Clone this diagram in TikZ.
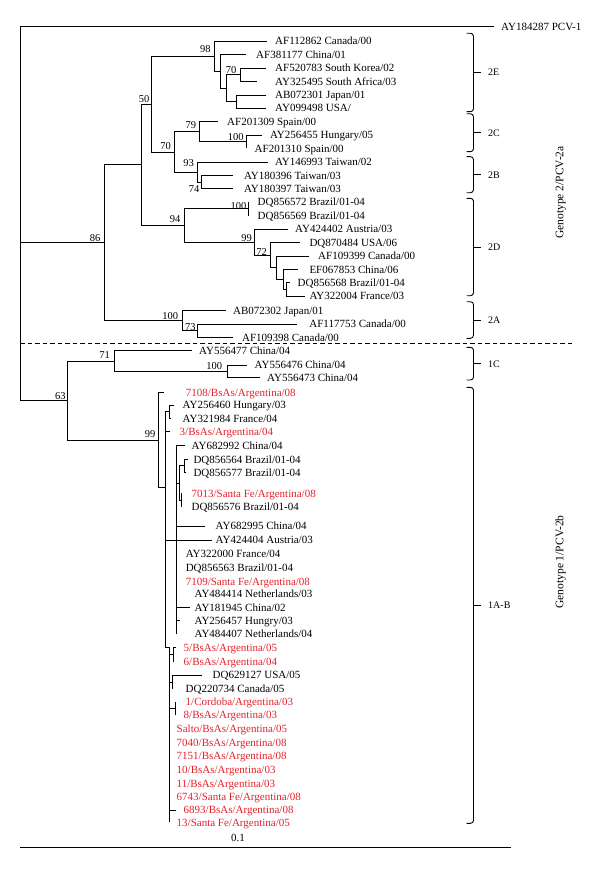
\documentclass[tikz,border=0pt]{standalone}
\usepackage{fontspec}
\setmainfont{Liberation Serif}
\usepackage{xcolor}
\definecolor{argentina}{HTML}{E3212B}

\begin{document}
\begin{tikzpicture}[x=1pt, y=-1pt,
    branch/.style={line width=0.9pt},
    leaf/.style={anchor=west, inner sep=0pt, text height=7.4pt, text depth=0pt, font=\fontsize{11}{12}\selectfont},
    argleaf/.style={leaf, text=argentina},
    boot/.style={inner sep=0pt, text height=7pt, text depth=0pt, font=\fontsize{10.5}{12}\selectfont},
    clade/.style={line width=0.9pt, rounded corners=3pt},
    cladename/.style={anchor=west, inner sep=0pt, text height=6.8pt, text depth=0pt, font=\fontsize{10}{11}\selectfont},
    genotype/.style={rotate=90, inner sep=0pt, font=\fontsize{11.5}{13}\selectfont},
]
\useasboundingbox (0,0) rectangle (600,869);

% Root and outgroup
\coordinate (root) at (20,242.9);
\coordinate (eAY184287) at (493.7,26.7);
\node[leaf] (AY184287) at (501,26.7) {AY184287 PCV-1};
\draw[branch] (root) |- (eAY184287);

% Genotype 2: internal nodes
\coordinate (n86) at (104.1,242.9);
\coordinate (nA) at (141.6,164.9);
\coordinate (nB) at (151.5,104.3);
\coordinate (n98) at (214,56.5);
\coordinate (nX) at (220,71.6);
\coordinate (nY) at (226,88.2);
\coordinate (nW) at (240,74.8);
\coordinate (nZ) at (236.7,101.7);
\coordinate (nC) at (174.1,152);
\coordinate (n79) at (199,131.8);
\coordinate (n100a) at (246.8,141.9);
\coordinate (n93) at (197,172);
\coordinate (n74) at (201.7,182.1);
\coordinate (n94) at (184.5,225.5);
\coordinate (n100b) at (248.3,208.9);
\coordinate (n99) at (254.3,242.05);
\coordinate (n72) at (270,255.1);
\coordinate (nK) at (276,267.65);
\coordinate (nL) at (283.3,279.3);
\coordinate (nM) at (286.7,289.3);
\coordinate (n2A) at (182.5,320.8);
\coordinate (n73) at (197,330.8);

% Genotype 2: leaves
\coordinate (eAF112862) at (266.7,41.3);  \node[leaf] (AF112862) at (275,41.3) {AF112862 Canada/00};
\coordinate (eAF381177) at (246,54.7);    \node[leaf] (AF381177) at (256,54.7) {AF381177 China/01};
\coordinate (eAF520783) at (266,68);      \node[leaf] (AF520783) at (275,68) {AF520783 South Korea/02};
\coordinate (eAY325495) at (257,81.5);    \node[leaf] (AY325495) at (275,81.5) {AY325495 South Africa/03};
\coordinate (eAB072301) at (266,95);      \node[leaf] (AB072301) at (275,95) {AB072301 Japan/01};
\coordinate (eAY099498) at (266,108.3);   \node[leaf] (AY099498) at (275,108.3) {AY099498 USA/};
\coordinate (eAF201309) at (218,121.7);   \node[leaf] (AF201309) at (227,121.7) {AF201309 Spain/00};
\coordinate (eAY256455) at (262,135.2);   \node[leaf] (AY256455) at (269.8,135.2) {AY256455 Hungary/05};
\coordinate (eAF201310) at (246.8,148.5); \node[leaf] (AF201310) at (254.5,148.5) {AF201310 Spain/00};
\coordinate (eAY146993) at (268,162);     \node[leaf] (AY146993) at (274.8,162) {AY146993 Taiwan/02};
\coordinate (eAY180396) at (233.4,175.4); \node[leaf] (AY180396) at (243.8,175.4) {AY180396 Taiwan/03};
\coordinate (eAY180397) at (233.4,188.8); \node[leaf] (AY180397) at (243.8,188.8) {AY180397 Taiwan/03};
\coordinate (eDQ856572) at (248.3,202.2); \node[leaf] (DQ856572) at (257.5,202.2) {DQ856572 Brazil/01-04};
\coordinate (eDQ856569) at (248.3,215.6); \node[leaf] (DQ856569) at (257.5,215.6) {DQ856569 Brazil/01-04};
\coordinate (eAY424402) at (288,229);     \node[leaf] (AY424402) at (295,229) {AY424402 Austria/03};
\coordinate (eDQ870484) at (300,242.5);   \node[leaf] (DQ870484) at (309.3,242.5) {DQ870484 USA/06};
\coordinate (eAF109399) at (309,256);     \node[leaf] (AF109399) at (318,256) {AF109399 Canada/00};
\coordinate (eEF067853) at (298,269.3);   \node[leaf] (EF067853) at (309.3,269.3) {EF067853 China/06};
\coordinate (eDQ856568) at (290,282.7);   \node[leaf] (DQ856568) at (297.5,282.7) {DQ856568 Brazil/01-04};
\coordinate (eAY322004) at (305,296);     \node[leaf] (AY322004) at (309.3,296) {AY322004 France/03};
\coordinate (eAB072302) at (226,310.7);   \node[leaf] (AB072302) at (233,310.7) {AB072302 Japan/01};
\coordinate (eAF117753) at (296.6,324);   \node[leaf] (AF117753) at (309.2,324) {AF117753 Canada/00};
\coordinate (eAF109398) at (233.4,337.7); \node[leaf] (AF109398) at (241.9,337.7) {AF109398 Canada/00};

% Genotype 2: branches
\draw[branch] (root) |- (n86);
\draw[branch] (n86) |- (nA) (n86) |- (n2A);
\draw[branch] (nA) |- (nB) (nA) |- (n94);
\draw[branch] (nB) |- (n98) (nB) |- (nC);
\draw[branch] (n98) |- (eAF112862) (n98) |- (nX);
\draw[branch] (nX) |- (eAF381177) (nX) |- (nY);
\draw[branch] (nY) |- (nW) (nY) |- (nZ);
\draw[branch] (nW) |- (eAF520783) (nW) |- (eAY325495);
\draw[branch] (nZ) |- (eAB072301) (nZ) |- (eAY099498);
\draw[branch] (nC) |- (n79) (nC) |- (n93);
\draw[branch] (n79) |- (eAF201309) (n79) |- (n100a);
\draw[branch] (n100a) |- (eAY256455) (n100a) |- (eAF201310);
\draw[branch] (n93) |- (eAY146993) (n93) |- (n74);
\draw[branch] (n74) |- (eAY180396) (n74) |- (eAY180397);
\draw[branch] (n94) |- (n100b) (n94) |- (n99);
\draw[branch] (n100b) |- (eDQ856572) (n100b) |- (eDQ856569);
\draw[branch] (n99) |- (eAY424402) (n99) |- (n72);
\draw[branch] (n72) |- (eDQ870484) (n72) |- (nK);
\draw[branch] (nK) |- (eAF109399) (nK) |- (nL);
\draw[branch] (nL) |- (eEF067853) (nL) |- (nM);
\draw[branch] (nM) |- (eDQ856568) (nM) |- (eAY322004);
\draw[branch] (n2A) |- (eAB072302) (n2A) |- (n73);
\draw[branch] (n73) |- (eAF117753) (n73) |- (eAF109398);

% Genotype 2: bootstrap values
\node[boot] (b86) at (95.1,237.7) {86};
\node[boot] (b50) at (144,99.3) {50};
\node[boot] (b98) at (205.3,49.3) {98};
\node[boot] (b70a) at (231.2,70) {70};
\node[boot] (b70b) at (165.5,146) {70};
\node[boot] (b79) at (190.8,125) {79};
\node[boot] (b100a) at (235.7,136.7) {100};
\node[boot] (b93) at (188.5,163.3) {93};
\node[boot] (b74) at (194.2,189.3) {74};
\node[boot] (b94) at (175.1,219.3) {94};
\node[boot] (b100b) at (238.5,205.5) {100};
\node[boot] (b99a) at (246.5,237.8) {99};
\node[boot] (b72) at (261.6,252.2) {72};
\node[boot] (b100c) at (170.3,316) {100};
\node[boot] (b73) at (190.4,326.7) {73};

% Divider between genotypes
\coordinate (dashL) at (20,343.3);
\coordinate (dashR) at (574,343.3);
\draw[line width=0.9pt, dash pattern=on 4.5pt off 3pt] (dashL) -- (dashR);

% Genotype 1: internal nodes
\coordinate (n63) at (67.4,400.8);
\coordinate (n71) at (114,361.2);
\coordinate (n100d) at (227,371.2);
\coordinate (n99b) at (158.3,440);
\coordinate (nQ) at (165.5,487.7);
\coordinate (nR) at (169.5,411.7);
\coordinate (nS) at (176,540);
\coordinate (nV) at (179.5,483);
\coordinate (nT) at (184,465.8);
\coordinate (nU) at (181,500);
\coordinate (nBA) at (169.3,647);
\coordinate (nG) at (173.3,654.5);
\coordinate (nDQ) at (172.5,682);
\coordinate (nCo) at (175,708.3);

% Genotype 1: leaves
\coordinate (eAY556477) at (192,350.7);   \node[leaf] (AY556477) at (199,350.7) {AY556477 China/04};
\coordinate (eAY556476) at (246.8,365);   \node[leaf] (AY556476) at (254.5,365) {AY556476 China/04};
\coordinate (eAY556473) at (260,377.3);   \node[leaf] (AY556473) at (267,377.3) {AY556473 China/04};
\coordinate (e7108) at (164,392.3);       \node[argleaf] (s7108) at (185.7,392.3) {7108/BsAs/Argentina/08};
\coordinate (eAY256460) at (174,405);     \node[leaf] (AY256460) at (182.5,405) {AY256460 Hungary/03};
\coordinate (eAY321984) at (171,418.3);   \node[leaf] (AY321984) at (182.5,418.3) {AY321984 France/04};
\coordinate (e3BsAs) at (170,431.7);      \node[argleaf] (s3BsAs) at (179.5,431.7) {3/BsAs/Argentina/04};
\coordinate (eAY682992) at (185,445.7);   \node[leaf] (AY682992) at (191.5,445.7) {AY682992 China/04};
\coordinate (eDQ856564) at (188,459.3);   \node[leaf] (DQ856564) at (193.3,459.3) {DQ856564 Brazil/01-04};
\coordinate (eDQ856577) at (185.5,472.3); \node[leaf] (DQ856577) at (193.3,472.3) {DQ856577 Brazil/01-04};
\coordinate (e7013) at (181,493.3);       \node[argleaf] (s7013) at (191.4,493.3) {7013/Santa Fe/Argentina/08};
\coordinate (eDQ856576) at (181,506.7);   \node[leaf] (DQ856576) at (191.4,506.7) {DQ856576 Brazil/01-04};
\coordinate (eAY682995) at (204.7,526);   \node[leaf] (AY682995) at (215.5,526) {AY682995 China/04};
\coordinate (eAY424404) at (212.4,540);   \node[leaf] (AY424404) at (215.5,540) {AY424404 Austria/03};
\coordinate (eAY322000) at (176,553.3);   \node[leaf] (AY322000) at (185.6,553.3) {AY322000 France/04};
\coordinate (eDQ856563) at (176,567.3);   \node[leaf] (DQ856563) at (185.6,567.3) {DQ856563 Brazil/01-04};
\coordinate (e7109) at (176,581.3);       \node[argleaf] (s7109) at (185.6,581.3) {7109/Santa Fe/Argentina/08};
\coordinate (eAY484414) at (176,594);     \node[leaf] (AY484414) at (194.4,594) {AY484414 Netherlands/03};
\coordinate (eAY181945) at (190.2,607.3); \node[leaf] (AY181945) at (194.4,607.3) {AY181945 China/02};
\coordinate (eAY256457) at (179.9,620.7); \node[leaf] (AY256457) at (194.4,620.7) {AY256457 Hungry/03};
\coordinate (eAY484407) at (176,634);     \node[leaf] (AY484407) at (194.4,634) {AY484407 Netherlands/04};
\coordinate (e5BsAs) at (176,647.3);      \node[argleaf] (s5BsAs) at (183.5,647.3) {5/BsAs/Argentina/05};
\coordinate (e6BsAs) at (173.3,661.7);    \node[argleaf] (s6BsAs) at (183.5,661.7) {6/BsAs/Argentina/04};
\coordinate (eDQ629127) at (202,675);     \node[leaf] (DQ629127) at (212.5,675) {DQ629127 USA/05};
\coordinate (eDQ220734) at (172.5,689);   \node[leaf] (DQ220734) at (185.5,689) {DQ220734 Canada/05};
\coordinate (e1Cordoba) at (175,701.7);   \node[argleaf] (s1Cordoba) at (185.5,701.7) {1/Cordoba/Argentina/03};
\coordinate (e8BsAs) at (175,715);        \node[argleaf] (s8BsAs) at (183.5,715) {8/BsAs/Argentina/03};
\coordinate (eSalto) at (169.3,729);      \node[argleaf] (sSalto) at (176.5,729) {Salto/BsAs/Argentina/05};
\coordinate (e7040) at (169.3,742.3);     \node[argleaf] (s7040) at (176.5,742.3) {7040/BsAs/Argentina/08};
\coordinate (e7151) at (169.3,756);       \node[argleaf] (s7151) at (176.5,756) {7151/BsAs/Argentina/08};
\coordinate (e10BsAs) at (169.3,769.5);   \node[argleaf] (s10BsAs) at (176.5,769.5) {10/BsAs/Argentina/03};
\coordinate (e11BsAs) at (169.3,783.3);   \node[argleaf] (s11BsAs) at (176.5,783.3) {11/BsAs/Argentina/03};
\coordinate (e6743) at (169.3,796.7);     \node[argleaf] (s6743) at (176.5,796.7) {6743/Santa Fe/Argentina/08};
\coordinate (e6893) at (175.5,810);       \node[argleaf] (s6893) at (183.5,810) {6893/BsAs/Argentina/08};
\coordinate (e13) at (169.3,822.3);       \node[argleaf] (s13) at (176.5,822.3) {13/Santa Fe/Argentina/05};

% Genotype 1: branches
\draw[branch] (root) |- (n63);
\draw[branch] (n63) |- (n71) (n63) |- (n99b);
\draw[branch] (n71) |- (eAY556477) (n71) |- (n100d);
\draw[branch] (n100d) |- (eAY556476) (n100d) |- (eAY556473);
\draw[branch] (n99b) |- (e7108) (n99b) |- (nQ);
\draw[branch] (nQ) |- (nR) (nQ) |- (e3BsAs) (nQ) |- (nS) (nQ) |- (nBA);
\draw[branch] (nR) |- (eAY256460) (nR) |- (eAY321984);
\draw[branch] (nS) |- (eAY682992) (nS) |- (nV) (nS) |- (eAY682995) (nS) |- (eAY424404)
    (nS) |- (eAY322000) (nS) |- (eDQ856563) (nS) |- (e7109) (nS) |- (eAY484414)
    (nS) |- (eAY181945) (nS) |- (eAY256457) (nS) |- (eAY484407);
\draw[branch] (nV) |- (nT) (nV) |- (nU);
\draw[branch] (nT) |- (eDQ856564) (nT) |- (eDQ856577);
\draw[branch] (nU) |- (e7013) (nU) |- (eDQ856576);
\draw[branch] (nBA) |- (nG) (nBA) |- (nDQ) (nBA) |- (nCo) (nBA) |- (eSalto) (nBA) |- (e7040)
    (nBA) |- (e7151) (nBA) |- (e10BsAs) (nBA) |- (e11BsAs) (nBA) |- (e6743) (nBA) |- (e6893) (nBA) |- (e13);
\draw[branch] (nG) |- (e5BsAs) (nG) |- (e6BsAs);
\draw[branch] (nDQ) |- (eDQ629127) (nDQ) |- (eDQ220734);
\draw[branch] (nCo) |- (e1Cordoba) (nCo) |- (e8BsAs);

% Genotype 1: bootstrap values
\node[boot] (b63) at (60.3,395.7) {63};
\node[boot] (b71) at (104.7,355) {71};
\node[boot] (b100d) at (214.3,366) {100};
\node[boot] (b99b) at (150.2,434.3) {99};

% Clade brackets
\draw[clade] (466.5,33.3) -- (473.5,33.3) -- (473.5,111.7) -- (466.5,111.7);
\draw[clade] (473.5,72.5) -- (480.5,72.5);
\node[cladename] (c2E) at (488,72.5) {2E};
\draw[clade] (466.5,113.8) -- (473.5,113.8) -- (473.5,151.7) -- (466.5,151.7);
\draw[clade] (473.5,132.7) -- (480.5,132.7);
\node[cladename] (c2C) at (488,132.7) {2C};
\draw[clade] (466.5,156.7) -- (473.5,156.7) -- (473.5,192.7) -- (466.5,192.7);
\draw[clade] (473.5,174.7) -- (480.5,174.7);
\node[cladename] (c2B) at (488,174.7) {2B};
\draw[clade] (466.5,198.3) -- (473.5,198.3) -- (473.5,295.7) -- (466.5,295.7);
\draw[clade] (473.5,247) -- (480.5,247);
\node[cladename] (c2D) at (488,247) {2D};
\draw[clade] (466.5,301.7) -- (473.5,301.7) -- (473.5,338.3) -- (466.5,338.3);
\draw[clade] (473.5,320) -- (480.5,320);
\node[cladename] (c2A) at (488,320) {2A};
\draw[clade] (466.5,347.3) -- (473.5,347.3) -- (473.5,380) -- (466.5,380);
\draw[clade] (473.5,363.7) -- (480.5,363.7);
\node[cladename] (c1C) at (488,363.7) {1C};
\draw[clade] (466.5,387.3) -- (473.5,387.3) -- (473.5,823.3) -- (466.5,823.3);
\draw[clade] (473.5,605.3) -- (480.5,605.3);
\node[cladename] (c1AB) at (488,605.3) {1A-B};

% Genotype labels
\node[genotype] (geno2) at (560.7,192.5) {Genotype 2/PCV-2a};
\node[genotype] (geno1) at (560.7,562) {Genotype 1/PCV-2b};

% Scale bar
\coordinate (barL) at (20,847.7);
\coordinate (barR) at (511,847.7);
\draw[line width=1pt] (barL) -- (barR);
\node[boot, font=\fontsize{11}{12}\selectfont] (scale) at (238,838.3) {0.1};

\end{tikzpicture}
\end{document}
